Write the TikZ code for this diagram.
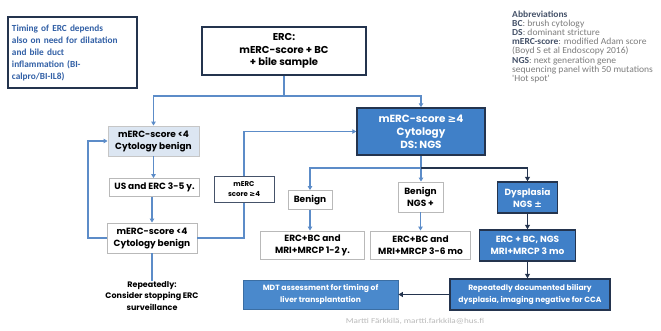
\documentclass[tikz,border=0pt]{standalone}
\usepackage{fontspec}
\setmainfont{Carlito}
\newfontfamily\gf{Poppins}
\newfontfamily\wide{Carlito}[FakeStretch=1.22]
\newfontfamily\abbfont{Carlito}[FakeStretch=1.04]
\newfontfamily\djv{DejaVu Sans}
\usetikzlibrary{arrows.meta}
\definecolor{conncol}{RGB}{92,140,200}
\definecolor{darkc}{RGB}{36,52,78}
\definecolor{bfill}{RGB}{64,128,200}
\definecolor{mfill}{RGB}{74,137,204}
\definecolor{lfill}{RGB}{220,230,242}
\definecolor{notec}{RGB}{50,96,166}
\definecolor{abbc}{RGB}{125,125,125}
\newcommand{\gesym}{{\djv ≥}}
\begin{document}
\begin{tikzpicture}[x=1pt,y=-1pt,
  box/.style={draw=gray!55, line width=0.9pt, fill=white, align=center, inner sep=0pt,
    font=\gf\bfseries\fontsize{9}{12}\selectfont, text=black},
  lbox/.style={box, fill=lfill, draw=gray!45},
  bluebox/.style={box, draw=darkc, line width=1.5pt, fill=bfill, text=white},
  conn/.style={draw=conncol, line width=1.1pt, -{Triangle[length=4pt,width=4.5pt]}},
  plain/.style={draw=conncol, line width=1.1pt},
  dconn/.style={draw=darkc, line width=1.8pt, -{Triangle[length=4.5pt,width=5pt]}},
]
\useasboundingbox (0,0) rectangle (661,330);

% note box
\node[draw=darkc, line width=1.3pt, fill=white, minimum width=129pt, minimum height=71pt,
  text width=121pt, align=left, inner sep=0pt, text=notec,
  font=\bfseries\fontsize{9.3}{12}\selectfont] (note) at (72.5,52.5)
  {Timing of ERC depends\\also on need for dilatation\\and bile duct\\inflammation (BI-\\calpro/BI-IL8)};

% abbreviations
\node[anchor=north west, align=left, inner sep=0pt, text=abbc,
  font=\abbfont\fontsize{9.2}{9.2}\selectfont] (abbr) at (512,10.5)
  {{\color{darkc!85}\bfseries Abbreviations}\\
   {\color{darkc!85}\bfseries BC}: brush cytology\\
   {\color{darkc!85}\bfseries DS}: dominant stricture\\
   {\color{darkc!85}\bfseries mERC-score}: modified Adam score\\
   (Boyd S et al Endoscopy 2016)\\
   {\color{darkc!85}\bfseries NGS}: next generation gene\\
   sequencing panel with 50 mutations\\
   'Hot spot'};

% main boxes
\node[box, draw=darkc, line width=1.5pt, minimum width=164pt, minimum height=48pt,
  font=\gf\bfseries\fontsize{10}{12.5}\selectfont] (erc) at (284,51)
  {ERC:\\mERC-score + BC\\+ bile sample};
\node[bluebox, minimum width=128pt, minimum height=47pt,
  font=\gf\bfseries\fontsize{10.4}{13}\selectfont] (hi) at (421,131.5)
  {mERC-score \gesym4\\Cytology\\DS: NGS};
\node[lbox, minimum width=91pt, minimum height=30pt] (b1) at (153.5,141)
  {mERC-score <4\\Cytology benign};
\node[box, minimum width=90pt, minimum height=18pt] (b2) at (154.5,187.5)
  {US and ERC 3-5 y.};
\node[box, minimum width=90pt, minimum height=30pt] (b3) at (152,238)
  {mERC-score <4\\Cytology benign};
\node[align=center, inner sep=0pt, font=\gf\bfseries\fontsize{8}{11.5}\selectfont] (rep) at (152,296)
  {Repeatedly:\\Consider stopping ERC\\surveillance};

\node[box, minimum width=44pt, minimum height=19pt] (ben) at (310,200) {Benign};
\node[box, minimum width=45pt, minimum height=30pt] (bngs) at (420.5,197) {Benign\\NGS +};
\node[bluebox, minimum width=60pt, minimum height=31pt] (dys) at (527.5,197.5) {Dysplasia\\NGS {\djv ±}};

\node[box, minimum width=104pt, minimum height=28pt] (e1) at (312.5,245)
  {ERC+BC and\\MRI+MRCP 1-2 y.};
\node[box, minimum width=100pt, minimum height=28pt] (e2) at (420.5,245)
  {ERC+BC and\\MRI+MRCP 3-6 mo};
\node[bluebox, minimum width=96pt, minimum height=31pt] (e3) at (527.5,245.5)
  {ERC + BC, NGS\\MRI+MRCP 3 mo};
\node[bluebox, minimum width=160pt, minimum height=31pt,
  font=\gf\bfseries\fontsize{7.6}{12}\selectfont] (rd) at (530,294.5)
  {Repeatedly documented biliary\\dysplasia, imaging negative for CCA};
\node[box, draw=mfill!80!black, line width=0.8pt, fill=mfill, text=white, minimum width=155pt, minimum height=29pt,
  font=\gf\bfseries\fontsize{7.6}{12}\selectfont] (mdt) at (320.5,294.5)
  {MDT assessment for timing of\\liver transplantation};

\node[inner sep=0pt, text=gray!55, font=\wide\fontsize{7.5}{8}\selectfont] (foot) at (415,321)
  {Martti Färkkilä, martti.farkkila@hus.fi};

% connectors
\coordinate (j1) at (284,96);
\draw[plain] (erc.south) -- (j1);
\draw[conn] (j1) -| (b1.north);
\draw[conn] (j1) -| (hi.north);
\draw[conn] (b1.south) -- (b2.north -| b1.south);
\draw[conn] (b2.south -| b3.north) -- (b3.north);
\draw[plain] (b3.south) -- (rep.north);
\coordinate (lp) at (88,238);
\draw[conn] (b3.west) -- (lp) |- (b1.west);
\coordinate (rp) at (244,238);
\draw[conn] (b3.east) -- (rp) |- (hi.west);
\node[box, draw=darkc!85, line width=1pt, minimum width=60pt, minimum height=26pt,
  font=\gf\bfseries\fontsize{7}{10}\selectfont] (lbl) at (244,189)
  {mERC\\score \gesym4};

\coordinate (j2) at (421,168);
\draw[plain] (hi.south) -- (j2);
\draw[conn] (j2) -| (ben.north);
\draw[conn] (j2) -- (bngs.north -| j2);
\draw[dconn] (j2) -| (dys.north);
\draw[conn] (ben.south) -- (ben.south |- e1.north);
\draw[conn] (bngs.south) -- (bngs.south |- e2.north);
\draw[dconn] (dys.south) -- (e3.north);
\draw[dconn] (e3.south) -- (e3.south |- rd.north);
\draw[dconn] (rd.west) -- (mdt.east);
\end{tikzpicture}
\end{document}
